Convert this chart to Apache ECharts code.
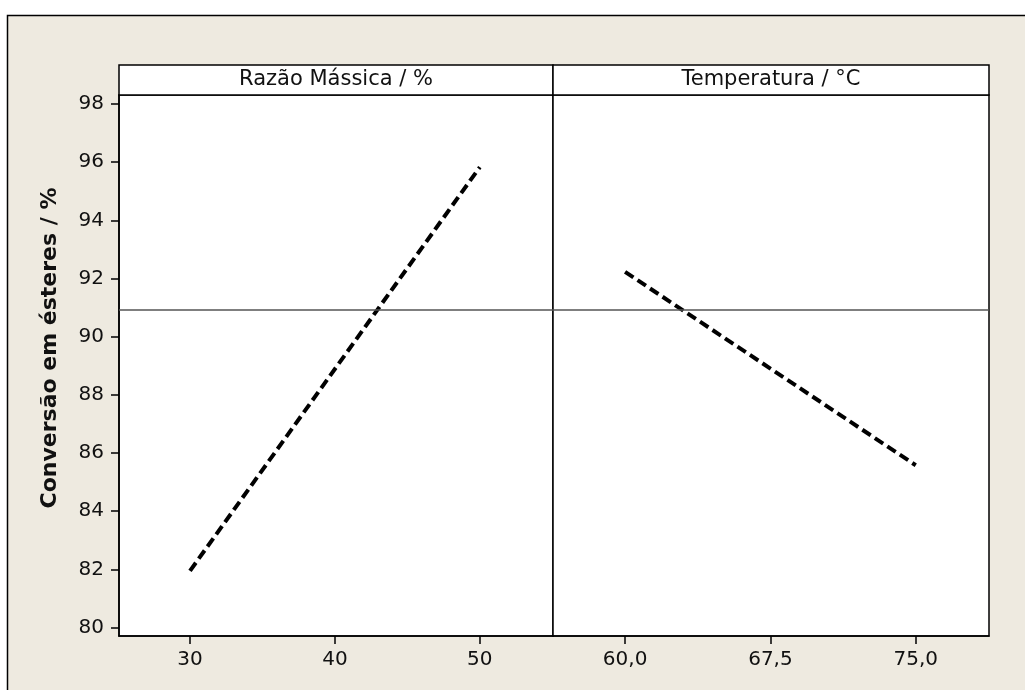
<!DOCTYPE html>
<html>
<head>
<meta charset="utf-8">
<script src="https://cdn.jsdelivr.net/npm/echarts@6/dist/echarts.min.js"></script>
<style>
  html, body { margin: 0; padding: 0; background: #fff; }
  #chart { width: 1025px; height: 690px; }
</style>
</head>
<body>
<div id="chart"></div>
<script>
var razaoX = [30, 50];
var razaoY = [81.95, 95.83];
var tempX = [60, 75];
var tempY = [92.23, 85.58];
var mediaGeral = 90.93;

var yTicks = [80, 82, 84, 86, 88, 90, 92, 94, 96, 98];
var razaoTicks = [30, 40, 50];
var tempTicks = [60, 67.5, 75];
var tempLabels = ['60,0', '67,5', '75,0'];

var painelTitulos = ['Razão Mássica / %', 'Temperatura / °C'];
var yTitulo = 'Conversão em ésteres / %';

var fonte = '"DejaVu Sans", Verdana, sans-serif';

var chart = echarts.init(document.getElementById('chart'));

function eixoX(idx, min, max, ticks, fmt) {
    return {
        gridIndex: idx,
        type: 'value',
        min: min,
        max: max,
        axisLine: { show: true, onZero: false, lineStyle: { color: '#000', width: 1.5 } },
        axisTick: { show: true, length: 8, customValues: ticks, lineStyle: { color: '#000', width: 1.5 } },
        axisLabel: {
            customValues: ticks,
            formatter: fmt,
            color: '#111', fontSize: 20, fontFamily: fonte, margin: 14
        },
        splitLine: { show: false }
    };
}

function eixoY(idx, mostrar) {
    return {
        gridIndex: idx,
        type: 'value',
        min: 79.71,
        max: 98.31,
        axisLine: { show: mostrar, lineStyle: { color: '#000', width: 1.5 } },
        axisTick: { show: mostrar, length: 8, customValues: yTicks, lineStyle: { color: '#000', width: 1.5 } },
        axisLabel: { show: mostrar, customValues: yTicks, color: '#111', fontSize: 20, fontFamily: fonte, margin: 15 },
        splitLine: { show: false }
    };
}

function serie(idx, xs, ys) {
    return {
        type: 'line',
        xAxisIndex: idx,
        yAxisIndex: idx,
        data: xs.map(function (x, i) { return [x, ys[i]]; }),
        symbol: 'none',
        lineStyle: { color: '#000', width: 4, type: [10, 5], cap: 'butt' },
        markLine: {
            silent: true,
            symbol: 'none',
            label: { show: false },
            lineStyle: { color: '#555', width: 1.5, type: 'solid' },
            data: [{ yAxis: mediaGeral }]
        },
        z: 3
    };
}

var option = {
    backgroundColor: '#fff',
    animation: false,
    grid: [
        { left: 119, top: 95, width: 434, height: 541, show: true, backgroundColor: '#fff', borderColor: '#000', borderWidth: 1.5 },
        { left: 553, top: 95, width: 436, height: 541, show: true, backgroundColor: '#fff', borderColor: '#000', borderWidth: 1.5 }
    ],
    xAxis: [
        eixoX(0, 25.1, 55.05, razaoTicks, function (v) { return String(v); }),
        eixoX(1, 56.28, 78.78, tempTicks, function (v) { return tempLabels[tempTicks.indexOf(v)]; })
    ],
    yAxis: [eixoY(0, true), eixoY(1, false)],
    series: [serie(0, razaoX, razaoY), serie(1, tempX, tempY)],
    graphic: [
        {
            type: 'rect', z: -10, silent: true,
            shape: { x: 7.5, y: 15.5, width: 1040, height: 700 },
            style: { fill: '#EEEAE0', stroke: '#000', lineWidth: 1.5 }
        },
        {
            type: 'rect', z: 10, silent: true,
            shape: { x: 119, y: 65, width: 434, height: 30 },
            style: { fill: '#fff', stroke: '#000', lineWidth: 1.5 }
        },
        {
            type: 'rect', z: 10, silent: true,
            shape: { x: 553, y: 65, width: 436, height: 30 },
            style: { fill: '#fff', stroke: '#000', lineWidth: 1.5 }
        },
        {
            type: 'text', z: 11, silent: true,
            x: 336, y: 80,
            style: { text: painelTitulos[0], fill: '#111', font: '21px ' + fonte, align: 'center', verticalAlign: 'middle' }
        },
        {
            type: 'text', z: 11, silent: true,
            x: 771, y: 80,
            style: { text: painelTitulos[1], fill: '#111', font: '21px ' + fonte, align: 'center', verticalAlign: 'middle' }
        },
        {
            type: 'text', z: 11, silent: true,
            x: 50, y: 348, rotation: Math.PI / 2,
            style: { text: yTitulo, fill: '#111', font: 'bold 22px ' + fonte, align: 'center', verticalAlign: 'middle' }
        }
    ]
};

chart.setOption(option);
</script>
</body>
</html>
